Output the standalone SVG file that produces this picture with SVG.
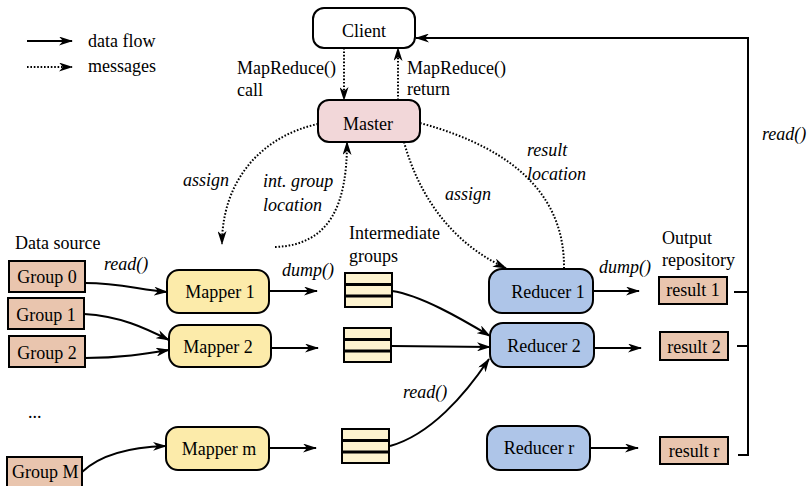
<svg xmlns="http://www.w3.org/2000/svg" width="808" height="486" viewBox="0 0 808 486">
<defs>
<marker id="ah" viewBox="0 0 14 9" refX="13" refY="4.5" markerWidth="14" markerHeight="9" markerUnits="userSpaceOnUse" orient="auto"><path d="M0,0 L14,4.5 L0,9 L4,4.5 z" fill="#000"/></marker>
<style>
text{font-family:"Liberation Serif","Times New Roman",serif;font-size:18px;fill:#000}
.it{font-style:italic}
.mid{text-anchor:middle}
.node{stroke:#000;stroke-width:2}
.flow{fill:none;stroke:#000;stroke-width:2}
.msg{fill:none;stroke:#000;stroke-width:2;stroke-dasharray:1.6 1.8}
.tan{fill:#e9c5ae}
.yel{fill:#fcebaa}
.blu{fill:#aec5e8}
.stk{fill:#fdf3cf;stroke:#000;stroke-width:2}
</style>
</defs>
<rect width="808" height="486" fill="#fff"/>

<g id="legend">
<path class="flow" d="M27,41 H72" marker-end="url(#ah)"/>
<text x="88" y="47">data flow</text>
<path class="msg" d="M27,67 H72" marker-end="url(#ah)"/>
<text x="88" y="72">messages</text>
</g>

<g id="connectors">
<path class="msg" d="M344,48 V100" marker-end="url(#ah)"/>
<path class="msg" d="M398,100 V48" marker-end="url(#ah)"/>
<path class="msg" d="M318,124 C262,136 222,180 222,244" marker-end="url(#ah)"/>
<path class="msg" d="M275,247 C330,245 347,205 347,142" marker-end="url(#ah)"/>
<path class="msg" d="M404,142 C420,200 455,245 506,268" marker-end="url(#ah)"/>
<path class="msg" d="M420,123 C520,150 565,200 564,269"/>
<path class="flow" d="M85,283 C120,283 140,290 167,292" marker-end="url(#ah)"/>
<path class="flow" d="M84,314 C120,316 145,328 169,340" marker-end="url(#ah)"/>
<path class="flow" d="M85,358 C120,358 145,354 169,350" marker-end="url(#ah)"/>
<path class="flow" d="M82,472 C100,455 130,447 166,446" marker-end="url(#ah)"/>
<path class="flow" d="M269,291 H317" marker-end="url(#ah)"/>
<path class="flow" d="M271,348 H318" marker-end="url(#ah)"/>
<path class="flow" d="M269,448 H316" marker-end="url(#ah)"/>
<path class="flow" d="M392,291 C420,295 460,318 490,336" marker-end="url(#ah)"/>
<path class="flow" d="M392,346 L490,347" marker-end="url(#ah)"/>
<path class="flow" d="M390,446 C430,435 465,395 489,359" marker-end="url(#ah)"/>
<path class="flow" d="M593,291 H639" marker-end="url(#ah)"/>
<path class="flow" d="M594,348 H641" marker-end="url(#ah)"/>
<path class="flow" d="M590,448 H638" marker-end="url(#ah)"/>
<path class="flow" d="M734,292 H748"/>
<path class="flow" d="M737,346 H748"/>
<path class="flow" d="M738,455 H748 V38 H416" marker-end="url(#ah)"/>
</g>

<g id="labels">
<text x="237" y="74">MapReduce()</text>
<text x="237" y="96">call</text>
<text x="407" y="74">MapReduce()</text>
<text x="407" y="95">return</text>
<text class="it" x="183" y="186">assign</text>
<text class="it" x="263" y="187">int. group</text>
<text class="it" x="263" y="211">location</text>
<text class="it" x="445" y="200">assign</text>
<text class="it" x="527" y="156">result</text>
<text class="it" x="527" y="180">location</text>
<text class="it" x="762" y="140">read()</text>
<text x="15" y="249">Data source</text>
<text class="it" x="104" y="270">read()</text>
<text class="it" x="282" y="276">dump()</text>
<text x="349" y="239">Intermediate</text>
<text x="349" y="262">groups</text>
<text class="it" x="599" y="273">dump()</text>
<text x="662" y="244">Output</text>
<text x="662" y="266">repository</text>
<text class="it" x="403" y="398">read()</text>
<text x="28" y="418">...</text>
</g>

<g id="client"><rect class="node" x="313" y="8" width="102" height="40" rx="11" fill="#fff"/><text class="mid" x="364" y="37">Client</text></g>
<g id="master"><rect class="node" x="318" y="100" width="102" height="42" rx="11" fill="#f2d7d9"/><text class="mid" x="368" y="130">Master</text></g>

<g id="group0"><rect class="node tan" x="9" y="261" width="76" height="31"/><text class="mid" x="47" y="283">Group 0</text></g>
<g id="group1"><rect class="node tan" x="8" y="298" width="76" height="31"/><text class="mid" x="46" y="321">Group 1</text></g>
<g id="group2"><rect class="node tan" x="9" y="336" width="76" height="31"/><text class="mid" x="47" y="359">Group 2</text></g>
<g id="groupM"><rect class="node tan" x="7" y="457" width="75" height="34"/><text x="12" y="478">Group M</text></g>

<g id="mapper1"><rect class="node yel" x="167" y="270" width="102" height="43" rx="12"/><text class="mid" x="220" y="298">Mapper 1</text></g>
<g id="mapper2"><rect class="node yel" x="169" y="325" width="102" height="42" rx="12"/><text class="mid" x="218" y="353">Mapper 2</text></g>
<g id="mapperm"><rect class="node yel" x="166" y="427" width="103" height="43" rx="12"/><text class="mid" x="219" y="455">Mapper m</text></g>

<g id="stack1"><rect class="stk" x="345" y="273" width="47" height="34"/><path d="M345,284.5 H392 M345,296 H392" stroke="#000" stroke-width="3"/></g>
<g id="stack2"><rect class="stk" x="344" y="328" width="47" height="34"/><path d="M344,339.5 H391 M344,351 H391" stroke="#000" stroke-width="3"/></g>
<g id="stack3"><rect class="stk" x="342" y="429" width="47" height="34"/><path d="M342,440.5 H389 M342,452 H389" stroke="#000" stroke-width="3"/></g>

<g id="reducer1"><rect class="node blu" x="489" y="269" width="104" height="44" rx="13"/><text class="mid" x="548" y="298">Reducer 1</text></g>
<g id="reducer2"><rect class="node blu" x="490" y="323" width="104" height="44" rx="13"/><text class="mid" x="544" y="352">Reducer 2</text></g>
<g id="reducerr"><rect class="node blu" x="487" y="426" width="103" height="44" rx="13"/><text class="mid" x="539" y="454">Reducer r</text></g>

<g id="result1"><rect class="node tan" x="659" y="277" width="68" height="27"/><text class="mid" x="693" y="296">result 1</text></g>
<g id="result2"><rect class="node tan" x="660" y="332" width="68" height="28"/><text class="mid" x="694" y="353">result 2</text></g>
<g id="resultr"><rect class="node tan" x="660" y="437" width="68" height="27"/><text class="mid" x="694" y="457">result r</text></g>
</svg>
